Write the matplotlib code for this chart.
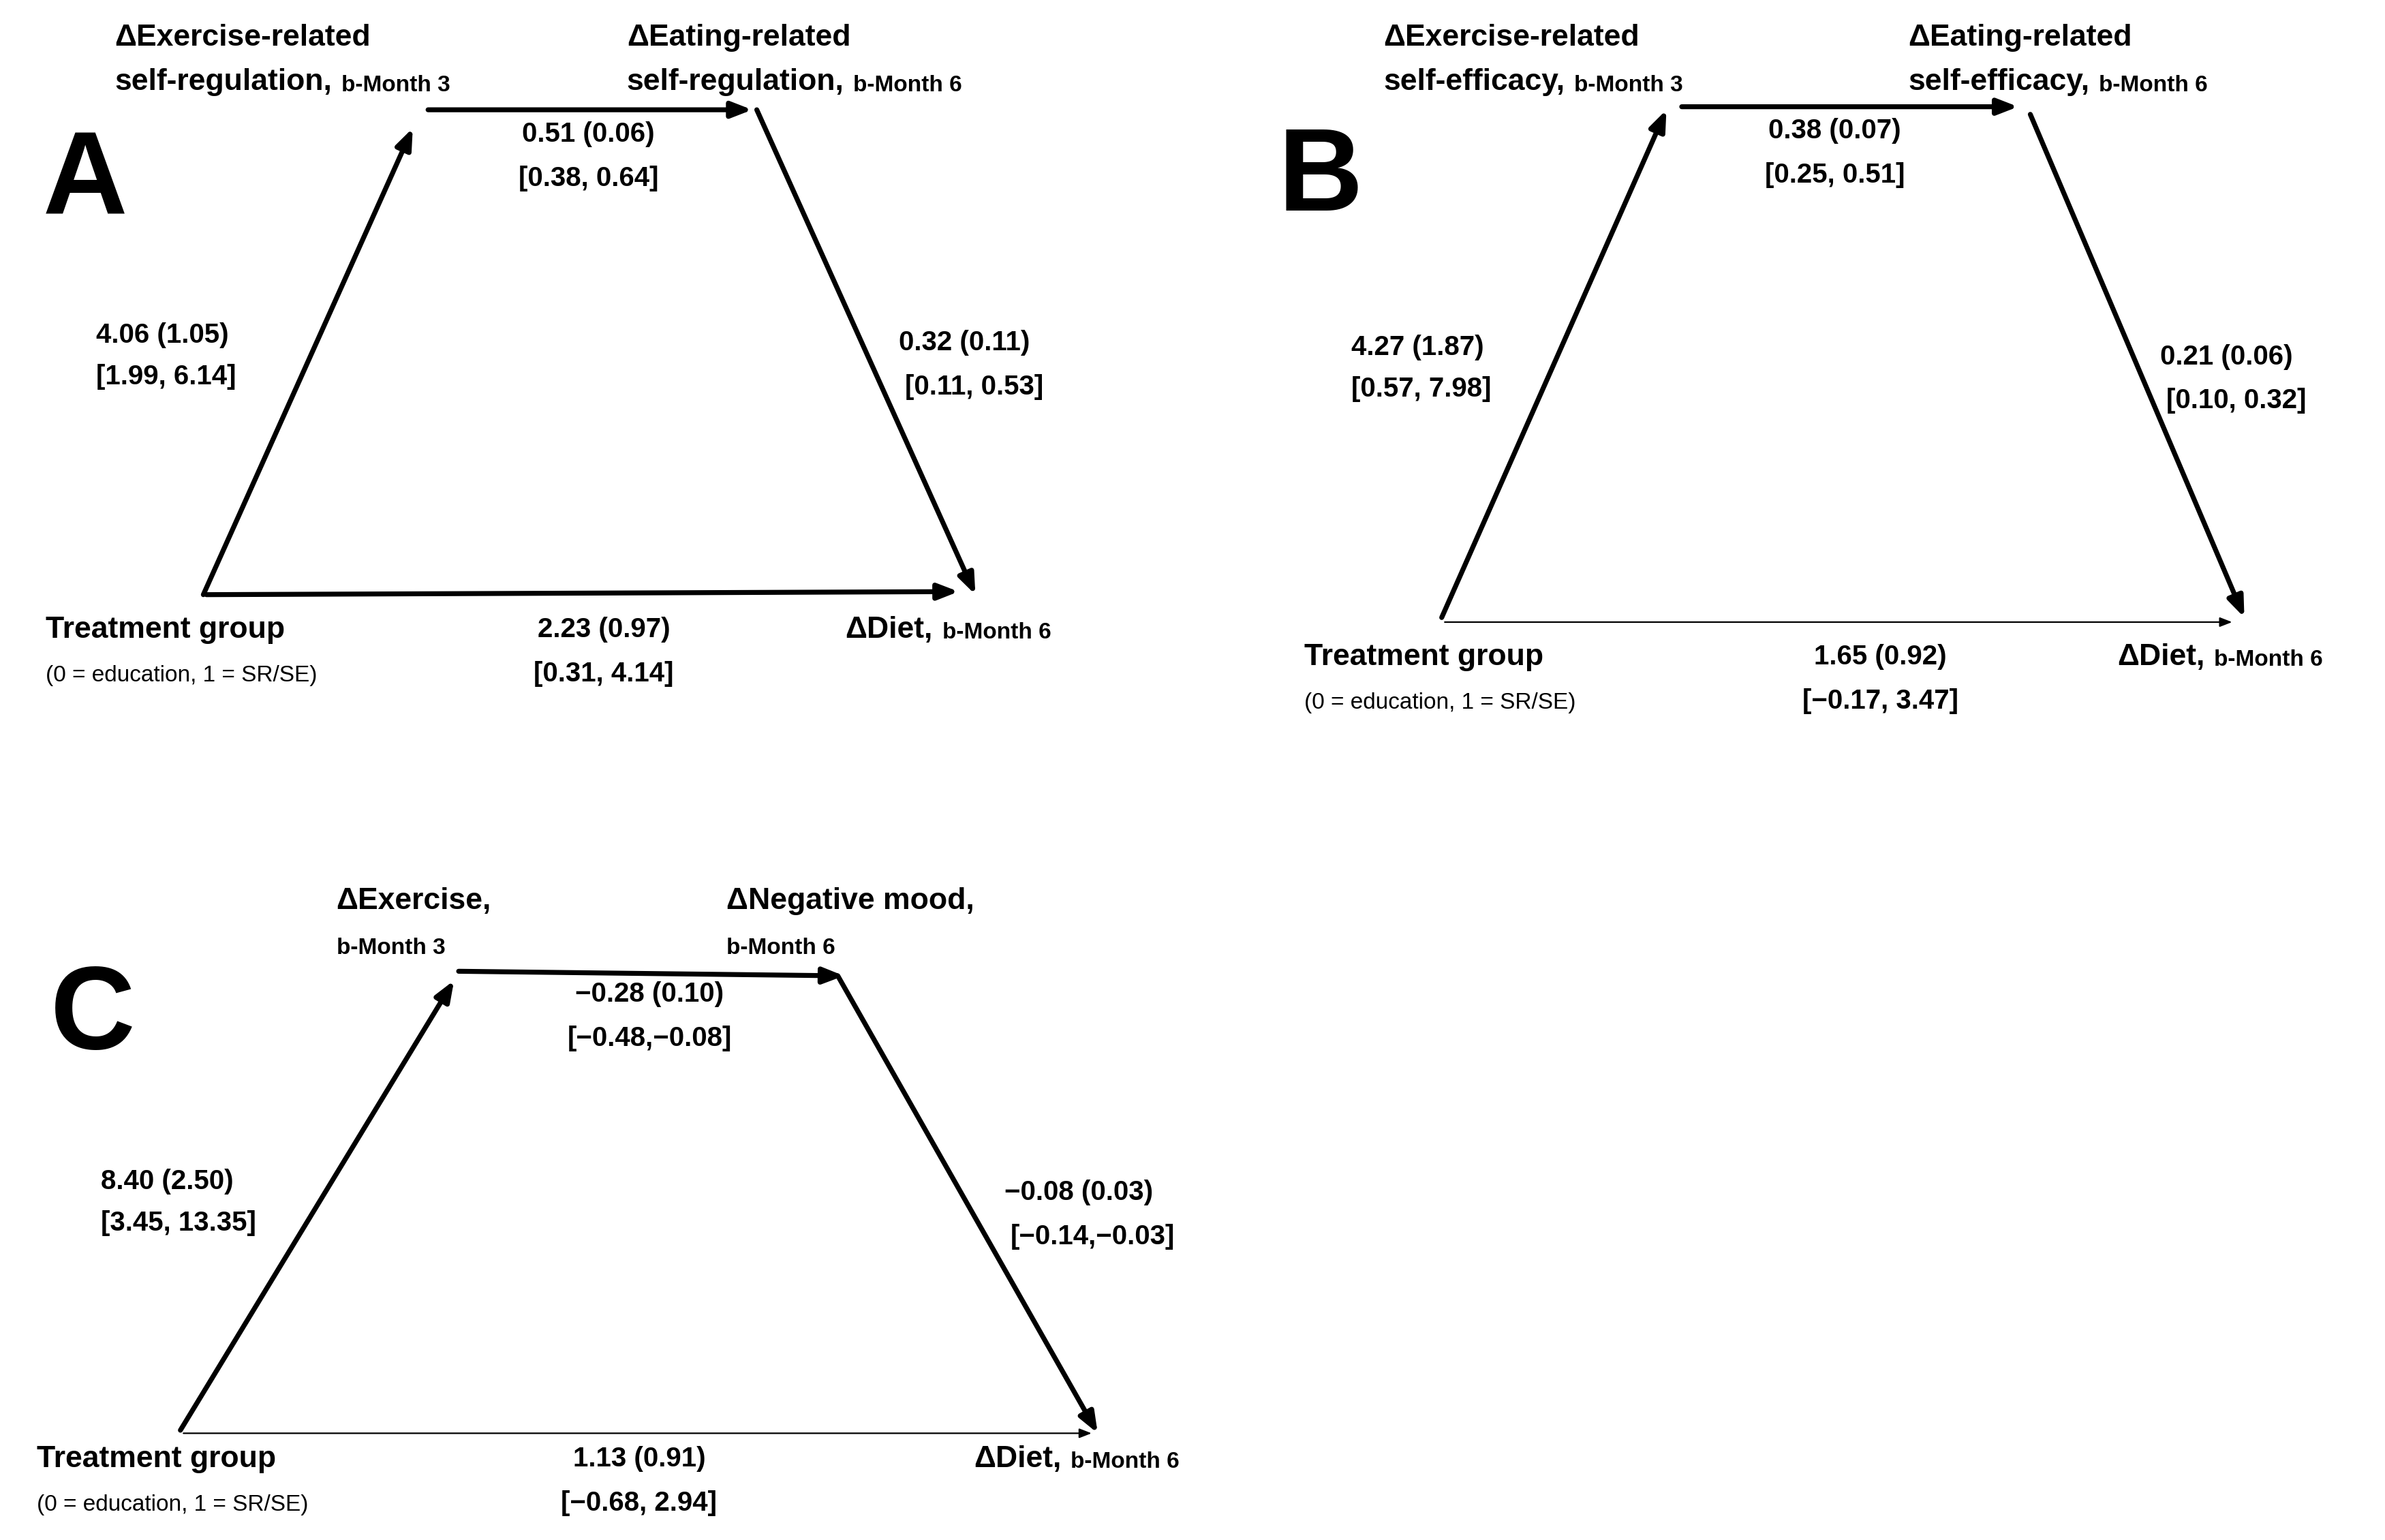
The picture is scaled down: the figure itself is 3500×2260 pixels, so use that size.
import matplotlib
matplotlib.use("Agg")
import matplotlib.pyplot as plt

plt.rcParams['font.family'] = ['Liberation Sans', 'DejaVu Sans']

W, H = 1560, 1010
fig = plt.figure(figsize=(17.5, 11.3), dpi=200)
ax = fig.add_axes([0, 0, 1, 1])
ax.set_xlim(0, W); ax.set_ylim(H, 0); ax.axis('off')

panel_letters = ['A', 'B', 'C']
path_a = ['4.06 (1.05)', '8.40 (2.50)']
coef_a = ['4.06 (1.05)', '4.27 (1.87)', '8.40 (2.50)']
ci_a = ['[1.99, 6.14]', '[0.57, 7.98]', '[3.45, 13.35]']
coef_d = ['0.51 (0.06)', '0.38 (0.07)', '\u22120.28 (0.10)']
ci_d = ['[0.38, 0.64]', '[0.25, 0.51]', '[\u22120.48,\u22120.08]']
coef_b = ['0.32 (0.11)', '0.21 (0.06)', '\u22120.08 (0.03)']
ci_b = ['[0.11, 0.53]', '[0.10, 0.32]', '[\u22120.14,\u22120.03]']
coef_c = ['2.23 (0.97)', '1.65 (0.92)', '1.13 (0.91)']
ci_c = ['[0.31, 4.14]', '[\u22120.17, 3.47]', '[\u22120.68, 2.94]']
med1_l1 = ['\u0394Exercise-related', '\u0394Exercise-related', '\u0394Exercise,']
med1_l2 = ['self-regulation,', 'self-efficacy,', '']
med2_l1 = ['\u0394Eating-related', '\u0394Eating-related', '\u0394Negative mood,']
med2_l2 = ['self-regulation,', 'self-efficacy,', '']
direct_thick = [True, False, False]

# layout per panel (display pixel space)
L = [
    dict(T=(133, 390), M1=(270, 84), h=((280, 72), (492, 72)), d=((495, 72), (638, 390)),
         bot=((135, 390), (627, 388)), m1=(75, 25), m2=(410, 25), dl=(385, 88), al=(63, 220),
         bl=(588, 225), tl=(30, 413), cl=(395, 413), yl=(553, 413), letter=(28, 120)),
    dict(T=(943, 405), M1=(1090, 72), h=((1100, 70), (1320, 70)), d=((1328, 75), (1468, 405)),
         bot=((945, 408), (1460, 408)), m1=(905, 25), m2=(1248, 25), dl=(1200, 86), al=(884, 228),
         bl=(1413, 234), tl=(853, 431), cl=(1230, 431), yl=(1385, 431), letter=(836, 118)),
    dict(T=(118, 938), M1=(297, 643), h=((300, 637), (552, 640)), d=((548, 640), (718, 940)),
         bot=((120, 940), (714, 940)), m1=(220, 591), m2=(475, 591), dl=(425, 652), al=(66, 775),
         bl=(657, 782), tl=(24, 957), cl=(418, 957), yl=(637, 957), letter=(33, 668)),
]

BIG, NUM, SMALL = 16, 14.5, 12

def arrow(p0, p1, lw=2.6, hw=1.0):
    ax.annotate('', xy=p1, xytext=p0,
                arrowprops=dict(arrowstyle=f'-|>,head_length={0.9*hw},head_width={0.35*hw}',
                                lw=lw, color='black', shrinkA=0, shrinkB=0))

fig.canvas.draw()
r = fig.canvas.get_renderer()

def pair(x, y, main, sub, fs=BIG):
    t = ax.text(x, y, main, fontsize=fs, fontweight='bold', va='center', ha='left')
    bb = t.get_window_extent(renderer=r)
    x2 = ax.transData.inverted().transform((bb.x1, bb.y0))[0]
    ax.text(x2 + 6, y + 2, sub, fontsize=SMALL, fontweight='bold', va='center', ha='left')

for i, p in enumerate(L):
    arrow(p['T'], p['M1'])
    arrow(*p['h'])
    arrow(*p['d'])
    if direct_thick[i]:
        arrow(*p['bot'])
    else:
        arrow(*p['bot'], lw=0.8, hw=0.6)
    ax.text(*p['letter'], panel_letters[i], fontsize=62, fontweight='bold', va='center', ha='left')
    x, y = p['m1']
    if med1_l2[i]:
        ax.text(x, y, med1_l1[i], fontsize=BIG, fontweight='bold', va='center')
        pair(x, y + 29, med1_l2[i], 'b-Month 3')
    else:
        ax.text(x, y, med1_l1[i], fontsize=BIG, fontweight='bold', va='center')
        ax.text(x, y + 31, 'b-Month 3', fontsize=SMALL, fontweight='bold', va='center')
    x, y = p['m2']
    if med2_l2[i]:
        ax.text(x, y, med2_l1[i], fontsize=BIG, fontweight='bold', va='center')
        pair(x, y + 29, med2_l2[i], 'b-Month 6')
    else:
        ax.text(x, y, med2_l1[i], fontsize=BIG, fontweight='bold', va='center')
        ax.text(x, y + 31, 'b-Month 6', fontsize=SMALL, fontweight='bold', va='center')
    x, y = p['dl']
    ax.text(x, y, coef_d[i], fontsize=NUM, fontweight='bold', ha='center', va='center')
    ax.text(x, y + 29, ci_d[i], fontsize=NUM, fontweight='bold', ha='center', va='center')
    x, y = p['al']
    ax.text(x, y, coef_a[i], fontsize=NUM, fontweight='bold', va='center')
    ax.text(x, y + 27, ci_a[i], fontsize=NUM, fontweight='bold', va='center')
    x, y = p['bl']
    ax.text(x, y, coef_b[i], fontsize=NUM, fontweight='bold', va='center')
    ax.text(x + 4, y + 29, ci_b[i], fontsize=NUM, fontweight='bold', va='center')
    x, y = p['tl']
    ax.text(x, y, 'Treatment group', fontsize=BIG, fontweight='bold', va='center')
    ax.text(x, y + 30, '(0 = education, 1 = SR/SE)', fontsize=SMALL, va='center')
    x, y = p['cl']
    ax.text(x, y, coef_c[i], fontsize=NUM, fontweight='bold', ha='center', va='center')
    ax.text(x, y + 29, ci_c[i], fontsize=NUM, fontweight='bold', ha='center', va='center')
    pair(*p['yl'], '\u0394Diet,', 'b-Month 6')

fig.savefig('out.png', dpi=200, facecolor='white')
